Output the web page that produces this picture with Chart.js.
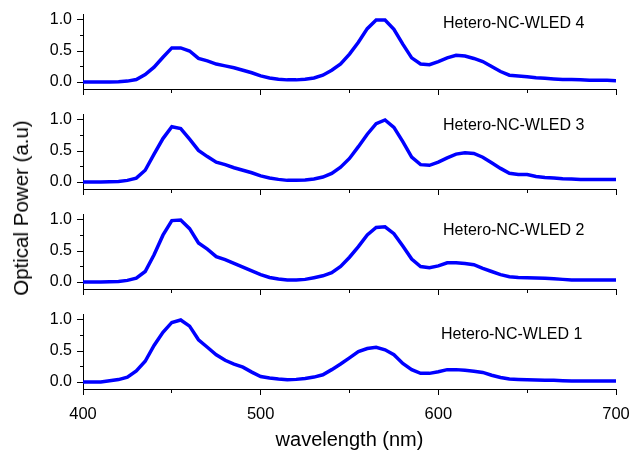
<!DOCTYPE html>
<html><head><meta charset="utf-8">
<script src="https://cdn.jsdelivr.net/npm/chart.js@4"></script>
<style>
html,body{margin:0;padding:0;background:#fff;}
#wrap{position:relative;width:630px;height:455px;overflow:hidden;background:#fff;}
.panel{position:absolute;left:0;width:630px;}
.panel canvas{display:block;}
#ytitle{position:absolute;left:21px;top:208px;transform:translate(-50%,-50%) rotate(-90deg);font:20.5px "Liberation Sans",Arial,Helvetica,sans-serif;white-space:nowrap;color:#000;}
</style></head><body>
<div id="wrap">
  <div class="panel" style="top:0;height:100px"><canvas id="c0" width="630" height="100"></canvas></div>
  <div class="panel" style="top:100px;height:100px"><canvas id="c1" width="630" height="100"></canvas></div>
  <div class="panel" style="top:200px;height:100px"><canvas id="c2" width="630" height="100"></canvas></div>
  <div class="panel" style="top:300px;height:155px"><canvas id="c3" width="630" height="155"></canvas></div>
  <div id="ytitle">Optical Power (a.u)</div>
</div>
<script>
const FONT = '"Liberation Sans", Arial, Helvetica, sans-serif';

// wavelength categories (nm)
const wavelength = [400,405,410,415,420,425,430,435,440,445,450,455,460,465,470,475,480,485,490,495,
  500,505,510,515,520,525,530,535,540,545,550,555,560,565,570,575,580,585,590,595,
  600,605,610,615,620,625,630,635,640,645,650,655,660,665,670,675,680,685,690,695,700];

// series (normalised optical power)
const wled4 = [0,0,0,0,0.005,0.015,0.04,0.12,0.24,0.40,0.55,0.55,0.50,0.38,0.34,0.29,0.26,0.23,0.19,0.15,
  0.10,0.065,0.045,0.035,0.035,0.045,0.065,0.11,0.19,0.29,0.45,0.64,0.86,1.0,1.0,0.85,0.61,0.39,0.29,0.28,
  0.33,0.39,0.43,0.42,0.38,0.33,0.25,0.17,0.11,0.096,0.085,0.07,0.06,0.05,0.04,0.04,0.035,0.027,0.027,0.027,0.02];
const wled3 = [0,0,0,0.005,0.01,0.027,0.064,0.19,0.45,0.70,0.89,0.86,0.69,0.51,0.41,0.32,0.28,0.23,0.19,0.15,
  0.10,0.065,0.043,0.027,0.027,0.032,0.048,0.08,0.14,0.24,0.38,0.57,0.77,0.94,1.0,0.88,0.65,0.40,0.28,0.27,
  0.32,0.39,0.45,0.47,0.46,0.40,0.31,0.22,0.14,0.12,0.12,0.09,0.075,0.064,0.053,0.048,0.043,0.04,0.04,0.04,0.04];
const wled2 = [0,0,0,0.005,0.01,0.027,0.064,0.17,0.44,0.755,0.99,1.0,0.86,0.63,0.53,0.41,0.36,0.30,0.24,0.18,
  0.12,0.074,0.048,0.032,0.032,0.043,0.07,0.10,0.15,0.25,0.40,0.57,0.76,0.88,0.89,0.78,0.58,0.37,0.25,0.23,
  0.26,0.31,0.31,0.30,0.28,0.22,0.17,0.12,0.085,0.074,0.07,0.064,0.06,0.053,0.043,0.032,0.032,0.032,0.032,0.032,0.032];
const wled1 = [0,0,0,0.02,0.04,0.08,0.18,0.335,0.59,0.80,0.96,1.0,0.90,0.68,0.56,0.44,0.35,0.29,0.24,0.16,
  0.09,0.064,0.048,0.037,0.043,0.058,0.08,0.117,0.20,0.29,0.39,0.49,0.54,0.56,0.52,0.44,0.30,0.20,0.14,0.14,
  0.165,0.20,0.20,0.19,0.175,0.155,0.11,0.074,0.048,0.043,0.037,0.032,0.027,0.027,0.021,0.016,0.016,0.016,0.016,0.016,0.016];

const seriesNames = ['Hetero-NC-WLED 4','Hetero-NC-WLED 3','Hetero-NC-WLED 2','Hetero-NC-WLED 1'];
const seriesValues = [wled4, wled3, wled2, wled1];

// tick labels
const xTickValues = [400,450,500,550,600,650,700];
const xLabelValues = [400,500,600,700];
const yTickValues = [0,0.25,0.5,0.75,1.0];
const yLabelValues = [0,0.5,1.0];

// label placement relative to each chart area (layout only)
const labelOffsets = [[360,10],[360,12],[360,17],[358,21]];

const panelLabelPlugin = {
  id: 'panelLabel',
  afterDraw(chart, args, opts) {
    const {ctx, chartArea} = chart;
    ctx.save();
    ctx.font = '16px ' + FONT;
    ctx.fillStyle = '#000';
    ctx.textAlign = 'left';
    ctx.textBaseline = 'middle';
    ctx.fillText(opts.text, chartArea.left + opts.dx, chartArea.top + opts.dy);
    ctx.restore();
  }
};

function makePanel(id, idx) {
  const bottom = idx === 3;
  const values = seriesValues[idx];
  return new Chart(document.getElementById(id), {
    type: 'line',
    data: {
      datasets: [{
        label: seriesNames[idx],
        data: wavelength.map((w, i) => ({x: w, y: values[i]})),
        borderColor: '#0000ff',
        borderWidth: 3.5,
        pointRadius: 0,
        tension: 0,
        fill: false
      }]
    },
    options: {
      responsive: false,
      animation: false,
      layout: {padding: {top: 14, right: 14, left: 0, bottom: 0}},
      plugins: {
        legend: {display: false},
        tooltip: {enabled: false},
        panelLabel: {text: seriesNames[idx], dx: labelOffsets[idx][0], dy: labelOffsets[idx][1]}
      },
      scales: {
        x: {
          type: 'linear', min: 400, max: 700,
          afterBuildTicks: s => { s.ticks = xTickValues.map(v => ({value: v})); },
          afterFit: s => { s.height = bottom ? 66 : 11; s.paddingLeft = 0; s.paddingRight = 0; },
          grid: {
            drawOnChartArea: false, drawTicks: true, tickLength: 6,
            color: '#000', tickColor: '#000', tickWidth: 1,
            tickBorderDash: c => (c.tick && xLabelValues.includes(c.tick.value)) ? [] : [3, 20]
          },
          border: {display: true, color: '#000', width: 1},
          ticks: {
            display: bottom, autoSkip: false, maxRotation: 0, padding: 10, color: '#000',
            font: {family: FONT, size: 16.5},
            callback: v => xLabelValues.includes(v) ? String(v) : ''
          },
          title: {
            display: bottom, text: 'wavelength (nm)', color: '#000',
            font: {family: FONT, size: 20}, padding: {top: 4, bottom: 3}
          }
        },
        y: {
          type: 'linear', min: -0.112, max: 1.096,
          afterBuildTicks: s => { s.ticks = yTickValues.map(v => ({value: v})); },
          afterFit: s => { s.width = 83; s.paddingTop = 0; s.paddingBottom = 0; },
          grid: {
            drawOnChartArea: false, drawTicks: true, tickLength: 6,
            color: '#000', tickColor: '#000', tickWidth: 1,
            tickBorderDash: c => (c.tick && yLabelValues.includes(c.tick.value)) ? [] : [0, 3, 20]
          },
          border: {display: true, color: '#000', width: 1},
          ticks: {
            autoSkip: false, padding: 5, color: '#000',
            font: {family: FONT, size: 16},
            callback: v => yLabelValues.includes(v) ? v.toFixed(1) : ''
          }
        }
      }
    },
    plugins: [panelLabelPlugin]
  });
}

['c0','c1','c2','c3'].forEach((id, i) => makePanel(id, i));
</script>
</body></html>
